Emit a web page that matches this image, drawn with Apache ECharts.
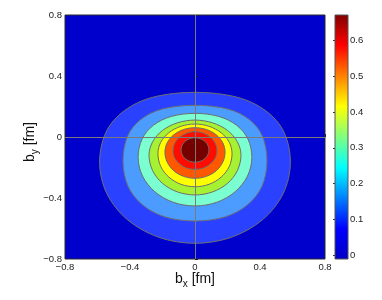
<!DOCTYPE html>
<html><head><meta charset="utf-8">
<script src="https://cdn.jsdelivr.net/npm/echarts@6/dist/echarts.min.js"></script>
<style>html,body{margin:0;padding:0;background:#fff}#c{width:382px;height:300px}</style>
</head><body><div id="c"></div>
<script>
// Axis ticks
const axisTicks = [-0.8, -0.4, 0, 0.4, 0.8];
const cbTicks = [0, 0.1, 0.2, 0.3, 0.4, 0.5, 0.6];
const cbMin = -0.01, cbMax = 0.67;

// Contour polygons (outer -> inner), [bx, by] in fm
const contour1 = [[0.587,-0.17],[0.548,0.031],[0.434,0.173],[0.255,0.262],[0,0.293],[-0.255,0.262],[-0.434,0.173],[-0.548,0.031],[-0.587,-0.17],[-0.542,-0.372],[-0.415,-0.543],[-0.225,-0.657],[0,-0.697],[0.225,-0.657],[0.415,-0.543],[0.542,-0.372]];
const contour2 = [[0.443,-0.16],[0.415,0.005],[0.332,0.116],[0.199,0.184],[0,0.208],[-0.199,0.184],[-0.332,0.116],[-0.415,0.005],[-0.443,-0.16],[-0.412,-0.323],[-0.323,-0.445],[-0.185,-0.524],[0,-0.551],[0.185,-0.524],[0.323,-0.445],[0.412,-0.323]];
const contour3 = [[0.35,-0.135],[0.326,-0.014],[0.256,0.077],[0.146,0.135],[0,0.155],[-0.146,0.135],[-0.256,0.077],[-0.326,-0.014],[-0.35,-0.135],[-0.323,-0.256],[-0.247,-0.359],[-0.134,-0.428],[0,-0.452],[0.134,-0.428],[0.247,-0.359],[0.323,-0.256]];
const contour4 = [[0.283,-0.12],[0.261,-0.032],[0.200,0.043],[0.108,0.093],[0,0.111],[-0.108,0.093],[-0.200,0.043],[-0.261,-0.032],[-0.283,-0.12],[-0.261,-0.220],[-0.200,-0.304],[-0.108,-0.360],[0,-0.380],[0.108,-0.360],[0.200,-0.304],[0.261,-0.220]];
const contour5 = [[0.228,-0.11],[0.211,-0.035],[0.161,0.028],[0.087,0.070],[0,0.085],[-0.087,0.070],[-0.161,0.028],[-0.211,-0.035],[-0.228,-0.11],[-0.211,-0.193],[-0.161,-0.263],[-0.087,-0.310],[0,-0.326],[0.087,-0.310],[0.161,-0.263],[0.211,-0.193]];
const contour6 = [[0.185,-0.10],[0.171,-0.038],[0.131,0.014],[0.071,0.049],[0,0.061],[-0.071,0.049],[-0.131,0.014],[-0.171,-0.038],[-0.185,-0.10],[-0.171,-0.165],[-0.131,-0.221],[-0.071,-0.258],[0,-0.271],[0.071,-0.258],[0.131,-0.221],[0.171,-0.165]];
const contour7 = [[0.135,-0.09],[0.125,-0.042],[0.095,-0.002],[0.052,0.025],[0,0.035],[-0.052,0.025],[-0.095,-0.002],[-0.125,-0.042],[-0.135,-0.09],[-0.125,-0.137],[-0.095,-0.176],[-0.052,-0.203],[0,-0.212],[0.052,-0.203],[0.095,-0.176],[0.125,-0.137]];
const contour8 = [[0.086,-0.085],[0.079,-0.054],[0.061,-0.028],[0.033,-0.011],[0,-0.005],[-0.033,-0.011],[-0.061,-0.028],[-0.079,-0.054],[-0.086,-0.085],[-0.079,-0.116],[-0.061,-0.142],[-0.033,-0.159],[0,-0.165],[0.033,-0.159],[0.061,-0.142],[0.079,-0.116]];

const backgroundFill = '#0000CD';
const fillColors = ['#2A42FF','#4C9BFF','#7CFFD0','#A6F232','#FFFF00','#FF5800','#FF0C00','#740000'];

// Colorbar (jet) stops: value -> colour
const cbStopValues = [-0.01, 0.075, 0.245, 0.415, 0.585, 0.67];
const cbStopColors = ['#0000C4', '#0000FF', '#00FFFF', '#FFFF00', '#FF0000', '#800000'];

const contours = [contour1, contour2, contour3, contour4, contour5, contour6, contour7, contour8];

const FONT = '"Liberation Sans", Arial, Helvetica, sans-serif';
const minusFmt = v => (v < 0 ? '\u2212' + (-v) : String(v));

// closed Catmull-Rom curve through pixel points -> SVG path
function closedSplinePath(P) {
  const n = P.length;
  let d = 'M' + P[0][0].toFixed(2) + ' ' + P[0][1].toFixed(2);
  for (let i = 0; i < n; i++) {
    const p0 = P[(i - 1 + n) % n], p1 = P[i], p2 = P[(i + 1) % n], p3 = P[(i + 2) % n];
    const c1 = [p1[0] + (p2[0] - p0[0]) / 6, p1[1] + (p2[1] - p0[1]) / 6];
    const c2 = [p2[0] - (p3[0] - p1[0]) / 6, p2[1] - (p3[1] - p1[1]) / 6];
    d += 'C' + c1[0].toFixed(2) + ' ' + c1[1].toFixed(2) + ' ' + c2[0].toFixed(2) + ' ' + c2[1].toFixed(2) + ' ' + p2[0].toFixed(2) + ' ' + p2[1].toFixed(2);
  }
  return d + 'Z';
}

const chart = echarts.init(document.getElementById('c'), null, {renderer: 'canvas'});

const nameRich = {
  b: {fontSize: 14, lineHeight: 20, fontFamily: FONT, color: '#111'},
  s: {fontSize: 10, lineHeight: 10, verticalAlign: 'bottom', fontFamily: FONT, color: '#111'}
};

const option = {
  animation: false,
  backgroundColor: '#fff',
  grid: [
    {left: 65, top: 15, width: 260, height: 244, show: true, backgroundColor: backgroundFill, borderColor: '#2a2a2a', borderWidth: 1},
    {left: 335, top: 15, width: 13, height: 244}
  ],
  xAxis: [
    {
      type: 'value', gridIndex: 0, min: axisTicks[0], max: axisTicks[axisTicks.length - 1], interval: 0.4,
      axisLine: {show: false}, splitLine: {show: false},
      axisTick: {show: true, inside: true, length: 3, lineStyle: {color: '#222'}},
      axisLabel: {fontSize: 9.5, color: '#222', margin: 3, fontFamily: FONT, formatter: minusFmt},
      name: '{b|b}{s|x}{b| [fm]}', nameLocation: 'middle', nameGap: 10, nameMoveOverlap: false,
      nameTextStyle: {rich: nameRich}
    },
    {type: 'value', gridIndex: 1, min: 0, max: 1, show: false}
  ],
  yAxis: [
    {
      type: 'value', gridIndex: 0, min: axisTicks[0], max: axisTicks[axisTicks.length - 1], interval: 0.4,
      axisLine: {show: false}, splitLine: {show: false},
      axisTick: {show: true, inside: true, length: 3, lineStyle: {color: '#222'}},
      axisLabel: {fontSize: 9.5, color: '#222', margin: 3, fontFamily: FONT, formatter: minusFmt},
      name: '{b|b}{s|y}{b| [fm]}', nameLocation: 'middle', nameGap: 25, nameMoveOverlap: false,
      nameTextStyle: {rich: nameRich, padding: [0, 10, 0, 0]}
    },
    {
      type: 'value', gridIndex: 1, position: 'right', min: cbMin, max: cbMax,
      minInterval: 0.1, maxInterval: 0.1,
      axisLine: {show: false}, splitLine: {show: false},
      axisTick: {show: true, inside: true, length: 2, lineStyle: {color: '#333'}},
      axisLabel: {fontSize: 9.5, color: '#222', margin: 2, fontFamily: FONT, showMinLabel: false, showMaxLabel: false,
        formatter: v => (cbTicks.some(t => Math.abs(t - v) < 1e-9) ? String(+v.toFixed(2)) : '')}
    }
  ],
  series: [
    {
      type: 'custom', xAxisIndex: 0, yAxisIndex: 0, clip: true, z: 2, silent: true,
      data: contours.map((c, i) => ({value: [0, 0], level: i})),
      renderItem: (params, api) => {
        const pts = contours[params.dataIndex].map(p => api.coord(p));
        return {
          type: 'path',
          shape: {pathData: closedSplinePath(pts)},
          style: {fill: fillColors[params.dataIndex], stroke: '#6e6e6e', lineWidth: 1}
        };
      }
    },
    {
      type: 'line', xAxisIndex: 0, yAxisIndex: 0, data: [], z: 5, silent: true,
      markLine: {
        silent: true, symbol: 'none', animation: false,
        label: {show: false},
        lineStyle: {color: '#7a7a7a', width: 1, type: 'solid'},
        data: [{xAxis: 0}, {yAxis: 0}]
      }
    },
    {
      type: 'custom', xAxisIndex: 1, yAxisIndex: 1, z: 2, silent: true,
      data: [[0, cbMin]],
      renderItem: (params, api) => {
        const p0 = api.coord([0, cbMin]);
        const p1 = api.coord([1, cbMax]);
        const span = cbMax - cbMin;
        const stops = cbStopValues.map((v, i) => ({offset: (v - cbMin) / span, color: cbStopColors[i]}));
        return {
          type: 'rect',
          shape: {x: p0[0], y: p1[1], width: p1[0] - p0[0], height: p0[1] - p1[1]},
          style: {fill: new echarts.graphic.LinearGradient(0, 1, 0, 0, stops), stroke: '#555', lineWidth: 1}
        };
      }
    }
  ]
};
chart.setOption(option);
</script>
</body></html>
